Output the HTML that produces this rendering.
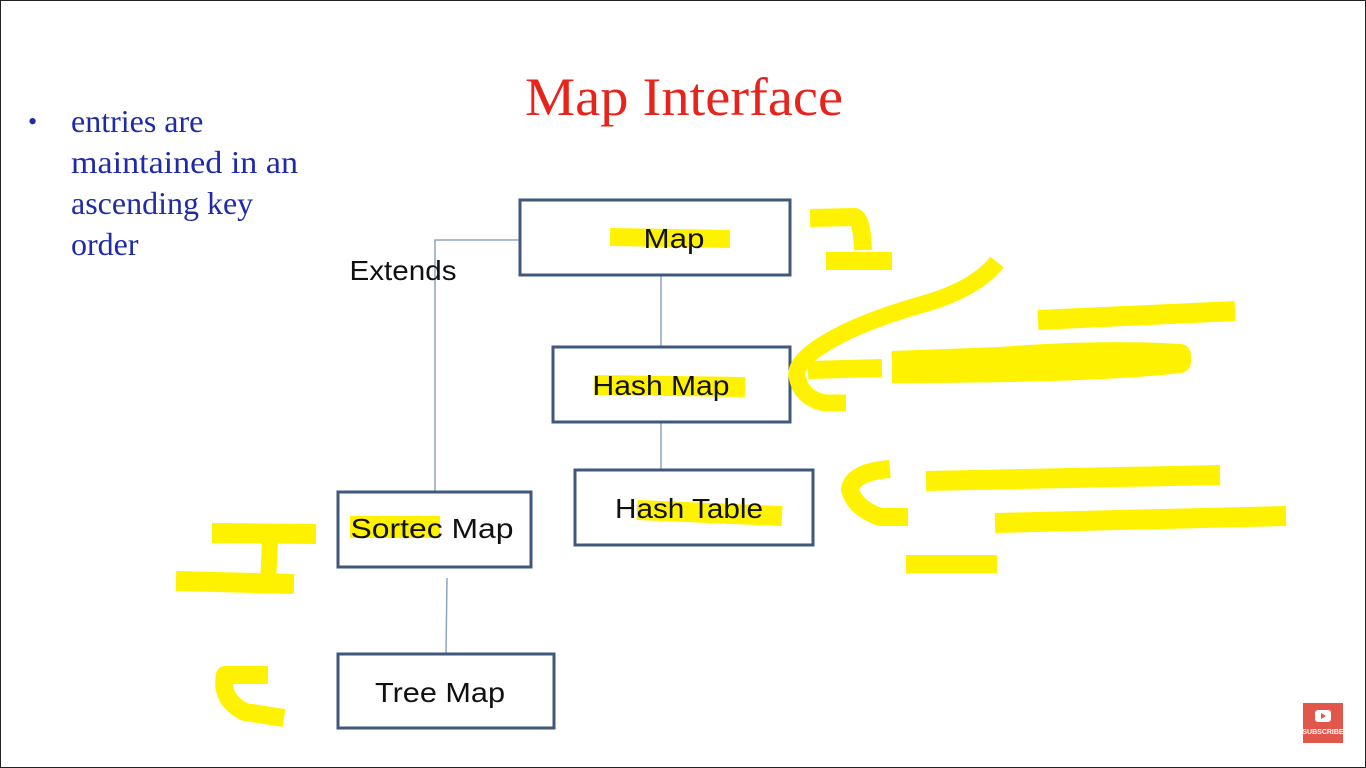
<!DOCTYPE html>
<html><head><meta charset="utf-8"><style>
html,body{margin:0;padding:0;background:#fff;}
svg{display:block;}
</style></head><body>
<svg width="1366" height="768" xmlns="http://www.w3.org/2000/svg">
<rect x="0.5" y="0.5" width="1365" height="767" fill="#fff" stroke="#222" stroke-width="1"/>
<text x="684" y="115" font-family="Liberation Serif, serif" font-size="54" fill="#e8231b" text-anchor="middle" textLength="318" lengthAdjust="spacingAndGlyphs">Map Interface</text>
<g font-family="Liberation Serif, serif" font-size="32" fill="#1f2aa8">
<text x="28" y="130" font-size="26">•</text>
<text x="71" y="132">entries are</text>
<text x="71" y="173" textLength="227" lengthAdjust="spacingAndGlyphs">maintained in an</text>
<text x="71" y="214">ascending key</text>
<text x="71" y="255">order</text>
</g>
<!-- highlights under text -->
<g stroke="#fff200" stroke-linecap="butt" fill="none">
<path d="M610 237 L730 239" stroke-width="18"/>
<path d="M594 385 L745 387" stroke-width="20"/>
<path d="M637 510 L782 516" stroke-width="20"/>
<path d="M350 527 L440 527" stroke-width="22"/>
</g>
<!-- connectors -->
<g stroke="#8ea3c2" stroke-width="1.5" fill="none">
<path d="M520 240 H435 V492"/>
<path d="M661 275 V347"/>
<path d="M661 422 V470"/>
<path d="M447 578 L446 653"/>
</g>
<!-- boxes -->
<g fill="none" stroke="#3f587c" stroke-width="3">
<rect x="520" y="200" width="270" height="75"/>
<rect x="553" y="347" width="237" height="75"/>
<rect x="575" y="470" width="238" height="75"/>
<rect x="338" y="492" width="193" height="75"/>
<rect x="338" y="654" width="216" height="74"/>
</g>
<g font-family="Liberation Sans, sans-serif" font-size="28" fill="#111" text-anchor="middle">
<text x="674" y="248" textLength="61" lengthAdjust="spacingAndGlyphs">Map</text>
<text x="661" y="395" textLength="137" lengthAdjust="spacingAndGlyphs">Hash Map</text>
<text x="689" y="518" textLength="148" lengthAdjust="spacingAndGlyphs">Hash Table</text>
<text x="432" y="538" textLength="163" lengthAdjust="spacingAndGlyphs">Sortec Map</text>
<text x="440" y="702" textLength="130" lengthAdjust="spacingAndGlyphs">Tree Map</text>
<text x="403" y="280" textLength="107" lengthAdjust="spacingAndGlyphs">Extends</text>
</g>
<!-- yellow scribbles -->
<g stroke="#fff200" fill="none" stroke-linecap="butt" stroke-linejoin="round">
<path d="M810 218 L855 217 Q862 220 863 250" stroke-width="18"/>
<path d="M826 261 L892 261" stroke-width="18"/>
<path d="M997 262 Q975 290 920 305 Q850 325 815 350 Q795 365 797 375 Q800 398 825 403 L846 403" stroke-width="17"/>
<path d="M808 370 L882 368" stroke-width="18"/>
<path d="M892 362 L1000 358 Q1100 350 1180 355 L1180 362 Q1100 372 892 372" stroke-width="22"/>
<path d="M1038 320 L1235 311" stroke-width="20"/>
<path d="M890 469 Q852 472 850 490 Q855 508 880 517 L908 517" stroke-width="18"/>
<path d="M926 481 L1220 475" stroke-width="20"/>
<path d="M995 523 L1286 516" stroke-width="20"/>
<path d="M906 564 L997 564" stroke-width="18"/>
<path d="M212 533 L316 534" stroke-width="20"/>
<path d="M270 540 L268 585" stroke-width="16"/>
<path d="M176 581 L294 584" stroke-width="20"/>
<path d="M268 675 L225 675 Q220 700 245 712 L284 718" stroke-width="18"/>
</g>
<rect x="1303" y="703" width="40" height="40" fill="#e2574c"/>
<rect x="1315" y="710" width="16" height="12" rx="3" fill="#fff"/>
<path d="M1321 713 L1326 716 L1321 719 Z" fill="#e2574c"/>
<text x="1323" y="734" font-family="Liberation Sans, sans-serif" font-size="7" font-weight="bold" fill="#fff" text-anchor="middle">SUBSCRIBE</text>
</svg>
</body></html>
